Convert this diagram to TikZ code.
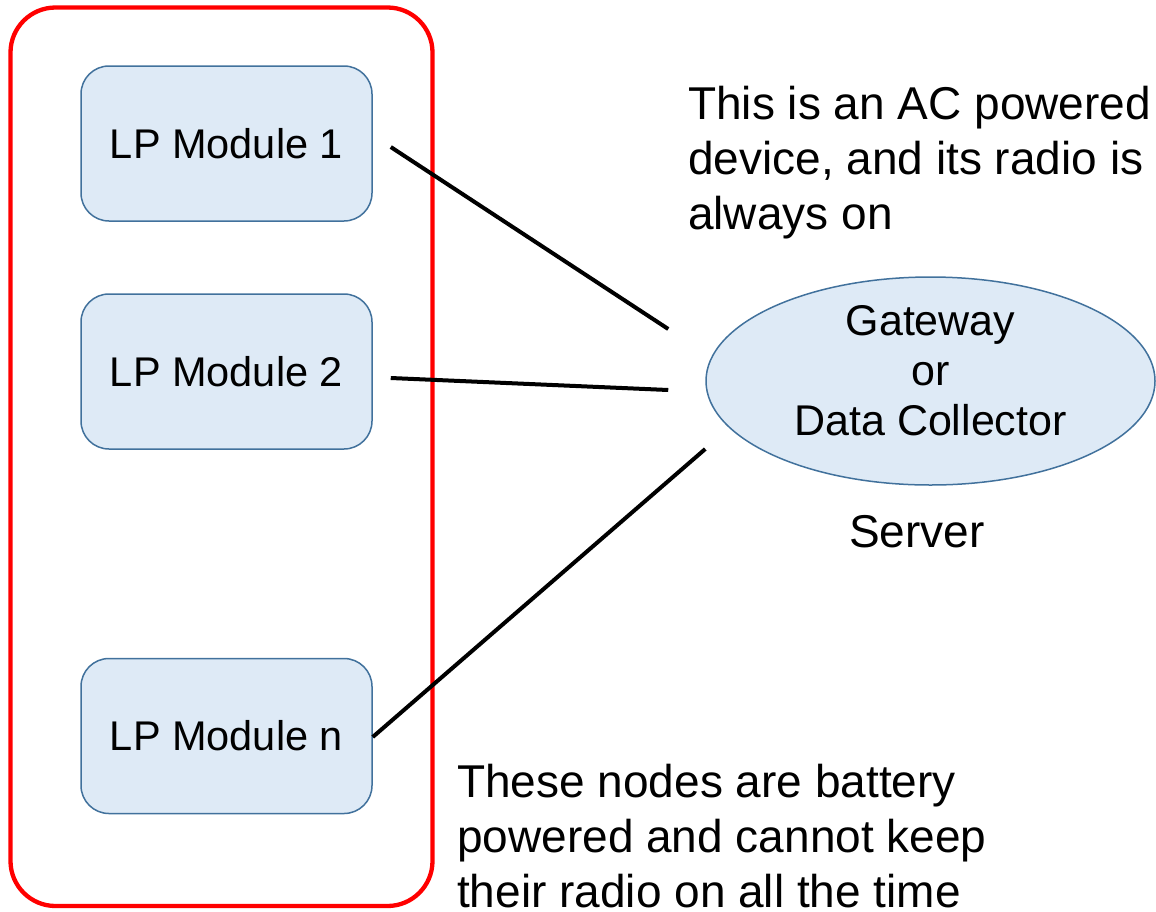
\documentclass[tikz,border=0pt]{standalone}
\usepackage{fontspec}
\setmainfont{Liberation Sans}
\usetikzlibrary{shapes.geometric,calc}
\definecolor{boxfill}{HTML}{DEEAF6}
\definecolor{boxline}{HTML}{41719C}
\begin{document}
\begin{tikzpicture}[x=1pt,y=-1pt,
  module/.style={draw=boxline, line width=1.5pt, fill=boxfill, rounded corners=28pt,
    minimum width=291pt, minimum height=155pt, inner sep=0pt,
    font=\fontsize{41.5}{50}\selectfont},
  gateway/.style={ellipse, draw=boxline, line width=1.5pt, fill=boxfill,
    minimum width=449pt, minimum height=208pt, inner sep=0pt},
  link/.style={line width=4pt, black},
  note/.style={font=\fontsize{46}{55}\selectfont, align=left, inner sep=0pt, anchor=north west},
  group/.style={draw=red, line width=4.3pt, rounded corners=45pt}]
\useasboundingbox (0,0) rectangle (1156,911);

% battery-powered group
\draw[group] (10.5,7.5) rectangle (432.5,906);

% low-power modules
\node[module] (m1) at (226.5,143.5) {LP Module 1};
\node[module] (m2) at (226.5,371.5) {LP Module 2};
\node[module] (mn) at (226.5,736) {LP Module n};

% gateway
\node[gateway] (gw) at (930.5,381) {};
\node[font=\fontsize{43}{50}\selectfont, align=center, inner sep=0pt, anchor=north]
  (gwtext) at (930.5,305) {Gateway\\or\\Data Collector};
\node[font=\fontsize{46}{55}\selectfont, inner sep=0pt, anchor=base west]
  (server) at (849,547) {Server};

% radio links
\coordinate (p1a) at ($(m1.east)+(18,3.5)$);
\coordinate (p1b) at ($(gw.west)+(-37,-52)$);
\coordinate (p2a) at ($(m2.east)+(18,6.5)$);
\coordinate (p2b) at ($(gw.west)+(-37,9)$);
\coordinate (p3a) at ($(mn.east)+(0,1)$);
\coordinate (p3b) at ($(gw.west)+(0,68)$);
\draw[link] (p1a) -- (p1b);
\draw[link] (p2a) -- (p2b);
\draw[link] (p3a) -- (p3b);

% notes
\node[note] (acnote) at (688,85.5) {This is an AC powered\\device, and its radio is\\always on};
\node[note] (batnote) at (457,763.5) {These nodes are battery\\powered and cannot keep\\their radio on all the time};
\end{tikzpicture}
\end{document}
